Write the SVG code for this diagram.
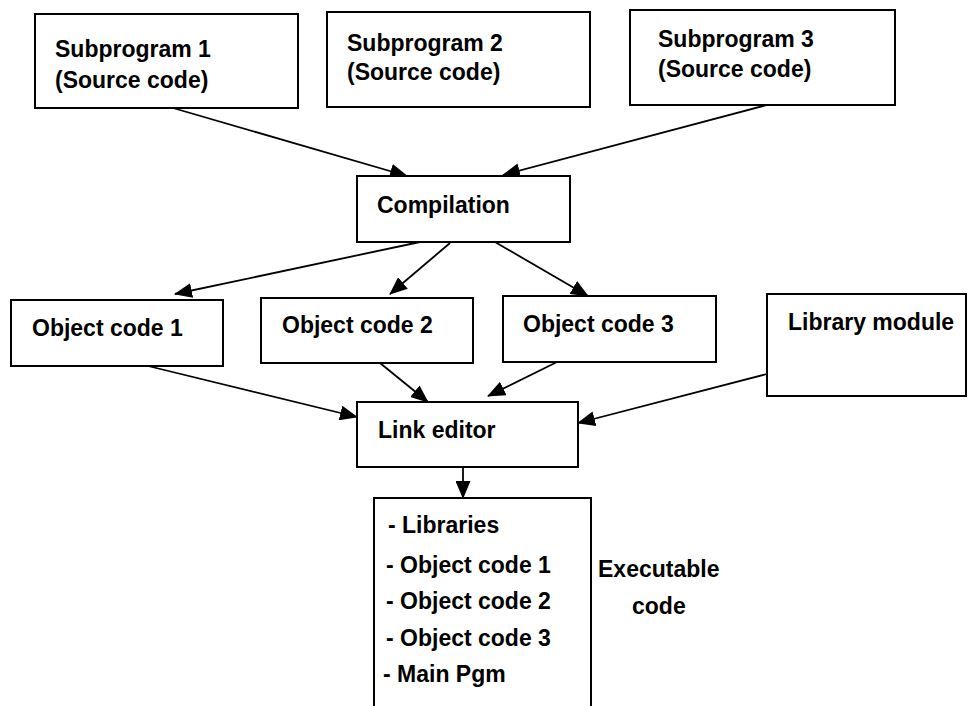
<svg xmlns="http://www.w3.org/2000/svg" width="969" height="706" viewBox="0 0 969 706">
<defs>
<style>
.box{fill:#fff;stroke:#000;stroke-width:2}
.lbl{font-family:"Liberation Sans",Arial,sans-serif;font-weight:bold;font-size:23px;fill:#000}
.con{stroke:#000;stroke-width:1.8;fill:none;marker-end:url(#ah)}
</style>
<marker id="ah" markerUnits="userSpaceOnUse" markerWidth="18" markerHeight="15" viewBox="0 0 18 15" refX="17" refY="7.5" orient="auto">
<path d="M0,0 L18,7.5 L0,15 Z" fill="#000"/>
</marker>
</defs>
<rect width="969" height="706" fill="#fff"/>
<g id="connectors">
<line class="con" x1="173" y1="108" x2="407" y2="176"/>
<line class="con" x1="767" y1="105" x2="503" y2="175"/>
<line class="con" x1="420" y1="242" x2="175" y2="294"/>
<line class="con" x1="450" y1="243" x2="390" y2="294"/>
<line class="con" x1="495" y1="242" x2="588" y2="296"/>
<line class="con" x1="148" y1="366" x2="357" y2="417"/>
<line class="con" x1="380" y1="363" x2="428" y2="402"/>
<line class="con" x1="557" y1="362" x2="488" y2="396"/>
<line class="con" x1="767" y1="374" x2="578" y2="423"/>
<line class="con" x1="463" y1="467" x2="463" y2="498"/>
</g>
<g id="sub1">
<rect class="box" x="35" y="14" width="263" height="94"/>
<text class="lbl" x="55" y="57">Subprogram 1</text>
<text class="lbl" x="55" y="88">(Source code)</text>
</g>
<g id="sub2">
<rect class="box" x="327" y="12" width="263" height="95"/>
<text class="lbl" x="347" y="51">Subprogram 2</text>
<text class="lbl" x="347" y="80">(Source code)</text>
</g>
<g id="sub3">
<rect class="box" x="630" y="10" width="265" height="95"/>
<text class="lbl" x="658" y="47">Subprogram 3</text>
<text class="lbl" x="658" y="77">(Source code)</text>
</g>
<g id="compilation">
<rect class="box" x="357" y="176" width="213" height="66"/>
<text class="lbl" x="377" y="213">Compilation</text>
</g>
<g id="obj1">
<rect class="box" x="11" y="300" width="212" height="66"/>
<text class="lbl" x="32" y="336">Object code 1</text>
</g>
<g id="obj2">
<rect class="box" x="261" y="298" width="212" height="65"/>
<text class="lbl" x="282" y="333">Object code 2</text>
</g>
<g id="obj3">
<rect class="box" x="503" y="296" width="213" height="66"/>
<text class="lbl" x="523" y="332">Object code 3</text>
</g>
<g id="library">
<rect class="box" x="767" y="294" width="199" height="102"/>
<text class="lbl" x="788" y="330">Library module</text>
</g>
<g id="linkeditor">
<rect class="box" x="357" y="402" width="221" height="65"/>
<text class="lbl" x="378" y="438">Link editor</text>
</g>
<g id="executable">
<path d="M374,708 V498 H591 V708" fill="#fff" stroke="#000" stroke-width="2"/>
<text class="lbl" x="388" y="533">- Libraries</text>
<text class="lbl" x="386" y="573">- Object code 1</text>
<text class="lbl" x="386" y="609">- Object code 2</text>
<text class="lbl" x="386" y="646">- Object code 3</text>
<text class="lbl" x="383" y="682">- Main Pgm</text>
<text class="lbl" x="598" y="577">Executable</text>
<text class="lbl" x="632" y="614">code</text>
</g>
</svg>
